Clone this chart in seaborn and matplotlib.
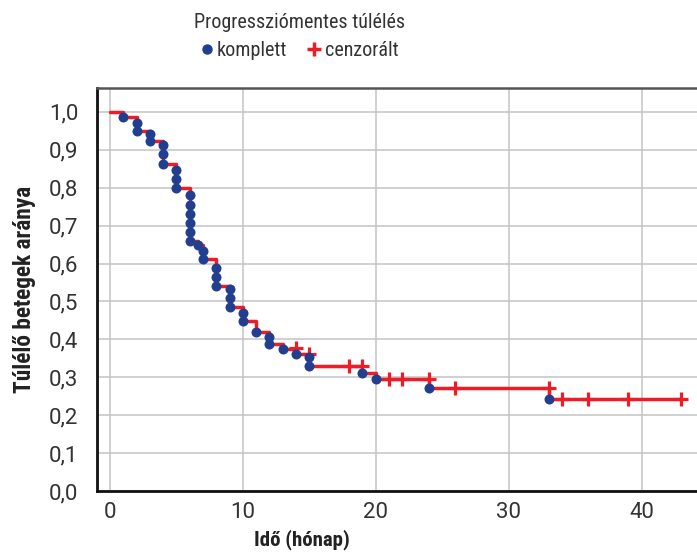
import matplotlib
matplotlib.use("Agg")
import matplotlib.pyplot as plt
from matplotlib.lines import Line2D
import numpy as np
import pandas as pd
import seaborn as sns

# ---- data ----
step_times = [0, 1, 2, 3, 4, 5, 6, 6.6, 7, 8, 9, 10, 11, 12, 13, 14, 15, 19, 20, 24, 33, 43]
step_surv = [1.0, 0.987, 0.95, 0.923, 0.863, 0.80, 0.66, 0.649, 0.612, 0.541, 0.486,
             0.449, 0.42, 0.388, 0.375, 0.361, 0.33, 0.312, 0.296, 0.272, 0.243, 0.243]

event_times = [1, 2, 2, 3, 3, 4, 4, 4, 5, 5, 5, 6, 6, 6, 6, 6, 6, 6.6, 7, 7,
               8, 8, 8, 9, 9, 9, 10, 10, 11, 12, 12, 13, 14, 15, 15, 19, 20, 24, 33]
event_surv = [0.987, 0.97, 0.95, 0.942, 0.923, 0.913, 0.889, 0.863, 0.847, 0.823, 0.80,
              0.78, 0.755, 0.731, 0.707, 0.683, 0.66, 0.649, 0.633, 0.612,
              0.588, 0.565, 0.541, 0.533, 0.509, 0.486, 0.47, 0.449, 0.42, 0.406, 0.388,
              0.375, 0.361, 0.354, 0.33, 0.312, 0.296, 0.272, 0.243]

censor_times = [14, 15, 18, 19, 21, 22, 24, 26, 33, 34, 36, 39, 43]
censor_surv = [0.377, 0.361, 0.33, 0.33, 0.296, 0.296, 0.296, 0.272, 0.272, 0.243, 0.243, 0.243, 0.243]

x_ticks = [0, 10, 20, 30, 40]
y_ticks = [0.0, 0.1, 0.2, 0.3, 0.4, 0.5, 0.6, 0.7, 0.8, 0.9, 1.0]
y_tick_labels = ["0,0", "0,1", "0,2", "0,3", "0,4", "0,5", "0,6", "0,7", "0,8", "0,9", "1,0"]

title = "Progressziómentes túlélés"
legend_labels = ["komplett", "cenzorált"]
x_label = "Idő (hónap)"
y_label = "Túlélő betegek aránya"

# ---- style ----
sns.set_theme(style="white")
plt.rcParams["font.family"] = ["Roboto Condensed", "Roboto", "DejaVu Sans"]
TICK_FONT = ["Roboto", "DejaVu Sans"]

RED = "#ee1c25"
BLUE = "#223f8f"
TXT = "#333333"

fig = plt.figure(figsize=(6.97, 5.53), dpi=100)
ax_w = 1 - 97 / 697 + 0.01
ax = fig.add_axes([97 / 697, (553 - 491) / 553, ax_w, (491 - 88) / 553])

step_df = pd.DataFrame({"t": step_times, "s": step_surv})
ev_df = pd.DataFrame({"t": event_times, "s": event_surv})
cen_df = pd.DataFrame({"t": censor_times, "s": censor_surv})

sns.lineplot(data=step_df, x="t", y="s", drawstyle="steps-post", color=RED,
             linewidth=2.5, estimator=None, sort=False, ax=ax, zorder=3)
sns.scatterplot(data=cen_df, x="t", y="s", marker="+", s=90, color=RED,
                linewidth=2.3, ax=ax, zorder=4)
sns.scatterplot(data=ev_df, x="t", y="s", marker="o", s=52, color=BLUE,
                edgecolor=BLUE, linewidth=0, ax=ax, zorder=5)

ax.set_xlim(-0.98, 44.7)
ax.set_ylim(0.0, 1.063)
ax.set_xticks(x_ticks)
ax.set_yticks(y_ticks)
ax.set_yticklabels(y_tick_labels)
ax.grid(True, color="#c4c4c4", linewidth=1.1)
ax.set_axisbelow(True)

for side in ["left", "bottom"]:
    ax.spines[side].set_color("#111111")
    ax.spines[side].set_linewidth(2.0)
ax.spines["top"].set_color("#555555")
ax.spines["top"].set_linewidth(1.8)
ax.spines["right"].set_visible(False)

ax.tick_params(axis="both", length=0, labelsize=16, colors=TXT)
ax.tick_params(axis="y", pad=13.5)
ax.tick_params(axis="x", pad=8)
for lab in ax.get_xticklabels() + ax.get_yticklabels():
    lab.set_fontfamily(TICK_FONT)

ax.set_xlabel(x_label, fontsize=15, fontweight="bold", color="#222222")
ax.set_ylabel(y_label, fontsize=16.8, fontweight="bold", color="#222222")
fig_w_px = 697
ax_w_px = ax_w * fig_w_px
ax_h_px = 491 - 88
ax.xaxis.set_label_coords((302 - 97) / ax_w_px, -(529 - 491) / ax_h_px)
ax.yaxis.set_label_coords(-(97 - 36) / ax_w_px, 0.5)

fig.text(300 / 697, 1 - 22 / 553, title, ha="center", va="center", fontsize=14.5, color=TXT)

handles = [Line2D([], [], marker="o", linestyle="none", color=BLUE, markersize=6.5),
           Line2D([], [], marker="+", linestyle="none", color=RED, markersize=10,
                  markeredgewidth=2.5)]
fig.legend(handles, legend_labels, loc="center", ncol=2, frameon=False,
           bbox_to_anchor=(300 / 697, 1 - 51 / 553), fontsize=14.5, handlelength=0.5,
           handletextpad=0.25, columnspacing=1.1, labelcolor=TXT)

fig.savefig("out.png", dpi=100)
